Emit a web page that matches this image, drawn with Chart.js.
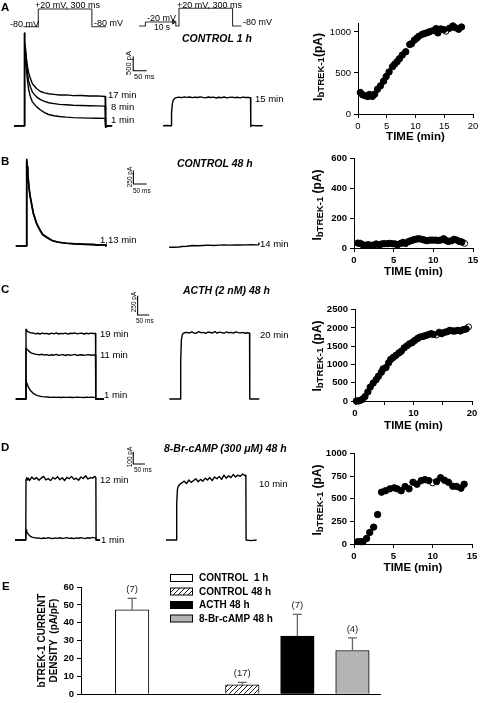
<!DOCTYPE html>
<html><head><meta charset="utf-8">
<script src="https://cdn.jsdelivr.net/npm/chart.js"></script>
<style>
html,body{margin:0;padding:0;background:#fff;}
#root{position:relative;width:480px;height:703px;overflow:hidden;font-family:"Liberation Sans",Arial,Helvetica,sans-serif;color:#000;background:#fff;}
canvas{position:absolute;}
.t{position:absolute;white-space:nowrap;line-height:1;}
sub{font-size:0.8em;vertical-align:-0.25em;line-height:0;}
</style></head><body><div id="root"></div>
<script>
// ---------------- DATA ----------------
// Voltage protocols (ms, mV)
const protoL_t = [-84, 0, 0, 300, 300, 380];
const protoL_v = [-80, -80, 20, 20, -80, -80];
const protoR_t = [-224, -188, -188, -18, -18, 0, 0, 300, 300, 350];
const protoR_v = [-80, -80, -57, -57, -80, -80, 20, 20, -80, -80];

// Panel A current traces (ms, pA)
const tA = [-38,-20,-1,0,2,4,8,12,16,22,30,45,60,75,90,110,130,155,180,210,240,270,299,300,302,312,325];
const A17 = [0,0,0,3300,3000,2800,2400,2100,1900,1700,1500,1330,1220,1170,1140,1120,1095,1100,1075,1080,1060,1065,1045,-60,-40,0,0];
const A8  = [0,0,0,3300,2900,2700,2200,1850,1600,1400,1200,1030,930,870,820,790,760,748,730,722,712,706,700,-60,-40,0,0];
const A1  = [0,0,0,3300,2800,2600,2000,1600,1300,1050,850,680,560,470,400,355,330,305,290,280,270,265,260,-60,-40,0,0];
const tA15 = [-30,-15,-1,0,2,5,8,12,16,20,30,40,50,60,70,80,90,100,110,120,130,140,150,160,170,180,190,200,210,220,230,240,250,260,270,280,290,299,300,303,320,345];
const A15 = [0,5,0,0,450,780,900,960,990,1000,1020,1000,1030,1010,1025,1000,1020,1005,1030,1010,995,1025,1005,1020,990,1015,1000,1025,995,1010,1020,1000,1015,995,1020,1005,1010,1000,-30,10,0,0];

// Panel B
const tB = [-41,-20,-1,0,2,4,8,12,18,25,37,50,60,80,97,120,149,180,220,255,260,280,296,297];
const B1  = [0,0,0,1630,1500,1380,1150,970,808,620,432,300,220,150,100,72,52,42,32,26,14,18,20,0];
const B13 = [0,0,0,1600,1470,1350,1120,950,790,605,420,292,212,146,97,70,52,40,30,25,24,21,22,0];
const tB14 = [-37,-20,0,10,30,50,70,90,110,130,150,170,190,210,230,250,270,290,299,300];
const B14 = [0,0,5,15,20,35,30,35,40,35,40,45,40,45,42,45,48,45,48,90];

// Panel C
const tC = [-44,-20,-1,0,3,6,10,15,20,30,40,50,60,70,80,90,100,110,120,130,140,150,160,170,180,190,200,210,220,230,240,250,260,270,280,290,299,300,315,335];
const C19 = [0,0,0,920,910,895,885,880,875,872,860,868,858,870,862,866,855,869,860,872,858,866,862,870,856,868,864,872,860,866,870,858,868,862,870,864,866,0,0,0];
const C11 = [0,0,0,669,660,650,640,625,612,600,592,588,585,590,580,586,575,584,578,590,576,582,585,574,586,578,582,588,575,580,584,576,582,586,578,580,582,0,0,0];
const C1  = [0,0,0,242,215,190,160,130,108,78,58,45,37,32,28,26,24,22,25,21,23,20,24,22,21,23,20,22,24,21,22,20,23,22,24,21,22,0,0,0];
const tC20 = [-46,-20,-1,0,3,6,10,15,20,30,40,50,60,70,80,90,100,110,120,130,140,150,160,170,180,190,200,210,220,230,240,250,260,270,280,290,299,300,320,341];
const C20 = [0,0,0,0,500,780,850,870,875,880,870,885,872,868,890,875,880,866,884,878,872,888,870,882,876,868,885,874,880,870,886,876,872,880,868,875,870,0,0,0];

// Panel D
const tD = [-47,-20,-1,0,3,6,10,15,20,25,35,45,55,65,75,85,95,105,115,125,135,145,155,165,175,185,195,205,215,225,235,245,255,265,275,285,295,299,300,317];
const D12 = [0,0,0,505,520,500,515,495,510,525,505,520,498,515,530,500,512,495,520,508,528,502,518,496,522,510,530,505,515,498,525,512,535,508,520,515,530,520,0,0];
const D1  = [0,0,0,83,70,60,48,38,30,24,20,16,18,12,17,14,20,15,12,18,14,19,13,16,20,14,17,12,18,15,20,16,13,19,15,22,18,17,0,0];
const tD10 = [-43,-20,-1,0,3,6,10,15,20,25,35,45,55,65,75,85,95,105,115,125,135,145,155,165,175,185,195,205,215,225,235,245,255,265,275,285,295,299,300,320,345];
const D10 = [0,0,0,0,300,420,450,460,470,475,490,470,500,480,495,510,485,505,490,515,500,520,495,525,510,530,505,540,515,535,520,545,525,540,530,550,535,540,0,-5,0];

// Scale bars
const barA = {ms: 50, pA: 500}, barB = {ms: 50, pA: 250}, barC = {ms: 50, pA: 250}, barD = {ms: 50, pA: 100};

// Time courses (min, pA)
const scA_t = [0.4,0.8,1.27,1.7,2.0,2.5,2.9,3.4,3.9,4.45,4.9,5.4,6.0,6.4,6.8,7.2,7.7,8.3,9.0,9.3,9.8,10.2,10.6,11.2,11.6,12.1,12.5,13.1,13.6,13.9,14.4,14.9,15.9,16.5,16.9,17.5,18.0];
const scA_i = [262,234,222,214,238,214,242,302,343,400,456,512,577,609,637,673,718,758,847,855,899,923,948,972,980,992,1004,1016,1040,988,1036,1028,1044,1073,1052,1032,1060];
const scA_open_t = [15.3], scA_open_i = [1008];
const scB_t = [0.5,0.8,1.1,1.5,1.8,2.15,2.5,2.8,3.2,3.5,3.8,4.2,4.5,4.85,5.2,5.5,5.9,6.2,6.5,6.9,7.2,7.55,7.9,8.2,8.6,8.9,9.2,9.6,9.9,10.25,10.6,10.9,11.3,11.6,11.9,12.3,12.6,12.95,13.3,13.6];
const scB_i = [33,31,22,18,22,18,20,27,22,27,29,29,31,29,27,22,31,38,31,44,49,56,60,62,58,53,49,53,53,53,51,53,62,51,44,49,58,53,44,40];
const scB_open_t = [13.95], scB_open_i = [31];
const scC_t = [0.23,0.57,0.9,1.26,1.7,2.2,2.6,3.1,3.6,4.0,4.5,4.8,5.3,5.75,6.1,6.55,7.0,7.5,7.9,8.4,8.85,9.3,9.8,10.2,10.7,11.1,11.6,12.0,12.5,13.0,13.4,14.4,14.8,15.3,15.75,16.2,16.7,17.1,17.6,18.0,18.5,19.0];
const scC_i = [0,0,18,46,120,250,380,490,583,676,787,880,917,1046,1139,1194,1250,1315,1361,1454,1509,1565,1602,1657,1713,1750,1769,1787,1815,1843,1824,1880,1843,1880,1898,1935,1917,1917,1935,1917,1954,1972];
const scC_open_t = [13.9, 19.4], scC_open_i = [1806, 2028];
const scD_t = [0.5,0.85,1.15,1.6,2.0,2.5,3.0,3.5,4.0,4.55,5.1,5.5,6.0,6.5,7.0,7.5,8.0,8.55,9.0,9.5,10.5,11.0,11.5,12.0,12.55,13.05,13.6,14.0];
const scD_i = [26,26,26,62,128,187,326,574,589,611,622,611,589,637,611,684,662,702,713,702,691,735,706,684,640,637,618,662];
const scD_open_t = [10.0], scD_open_i = [677];

// Tick values of the time-course panels
const ticksA_x = [0,5,10,15,20],  ticksA_y = [0,500,1000];
const ticksB_x = [0,5,10,15],     ticksB_y = [0,200,400,600];
const ticksC_x = [0,5,10,15,20],  ticksC_y = [0,500,1000,1500,2000,2500];
const labelsC_x = [0,10,20];
const ticksD_x = [0,5,10,15],     ticksD_y = [0,250,500,750,1000];

// Panel E bar chart
const eLabels = ['CONTROL  1 h', 'CONTROL 48 h', 'ACTH 48 h', '8-Br-cAMP 48 h'];
const eSlot = [1, 3, 4, 5];
const eMean = [47.2, 5.3, 32.6, 24.5];
const eSEM  = [6.4, 1.4, 12.1, 7.0];
const eN    = [7, 17, 7, 4];
const eTicks = [0,10,20,30,40,50,60];

// ---------------- RENDER ----------------
const FONT = '"Liberation Sans", Arial, Helvetica, sans-serif';
Chart.defaults.font.family = FONT;
Chart.defaults.color = '#000';
Chart.defaults.animation = false;
Chart.defaults.events = [];
Chart.defaults.plugins.legend.display = false;
Chart.defaults.plugins.tooltip.enabled = false;

const root = document.getElementById('root');
function mkCanvas(r){
  const c = document.createElement('canvas');
  c.width = r.w; c.height = r.h;
  c.style.left = r.l + 'px'; c.style.top = r.t + 'px';
  c.style.width = r.w + 'px'; c.style.height = r.h + 'px';
  root.appendChild(c); return c;
}
function pairs(t, v){ return t.map((x, i) => ({x: x, y: v[i]})); }
function txt(s, x, y, css, center){
  const d = document.createElement('div'); d.className = 't'; d.innerHTML = s;
  d.style.left = x + 'px'; d.style.top = y + 'px';
  d.style.transform = center ? 'translate(-50%,-50%)' : 'translate(0,-50%)';
  Object.assign(d.style, css || {}); root.appendChild(d);
}
function rtxt(s, x, y, css){
  const d = document.createElement('div'); d.className = 't'; d.innerHTML = s;
  d.style.left = x + 'px'; d.style.top = y + 'px';
  d.style.transform = 'translate(-50%,-50%) rotate(-90deg)';
  Object.assign(d.style, css || {}); root.appendChild(d);
}

function traceChart(rect, map, lines, extra){
  const xmin = -(map.px0 - rect.l) * map.xPer;
  const xmax = xmin + rect.w * map.xPer;
  const ymax = map.yRef + (map.py - rect.t) * map.yPer;
  const ymin = ymax - rect.h * map.yPer;
  const ds = lines.map(L => ({data: pairs(L.t, L.v), showLine: true, borderColor: L.c || '#000',
    borderWidth: L.w || 1.4, pointRadius: 0, tension: 0, fill: false, clip: false, borderJoinStyle: 'round'}));
  if (extra) extra.forEach(e => ds.push(e));
  new Chart(mkCanvas(rect), {type: 'scatter', data: {datasets: ds},
    options: {responsive: false, layout: {padding: 0, autoPadding: false},
      scales: {x: {type: 'linear', display: false, min: xmin, max: xmax},
               y: {type: 'linear', display: false, min: ymin, max: ymax}}}});
}
function scaleBarLine(t0, i0, b){
  return {t: [t0, t0, t0 + b.ms], v: [i0 + b.pA, i0, i0], w: 1.1};
}

// Protocols
traceChart({l:0,t:0,w:135,h:32}, {px0:38.3,xPer:5.6,py:26.7,yRef:-80,yPer:5.65},
  [{t: protoL_t, v: protoL_v, c: '#333', w: 1.1}]);
traceChart({l:135,t:0,w:145,h:32}, {px0:179,xPer:5.6,py:26,yRef:-80,yPer:5.65},
  [{t: protoR_t, v: protoR_v, c: '#333', w: 1.1}],
  [{data: [{x: -30, y: -57}], pointStyle: 'triangle', rotation: 90, pointRadius: 2.5,
    pointBackgroundColor: '#333', pointBorderColor: '#333', showLine: false, clip: false}]);

// Panel traces
traceChart({l:8,t:26,w:152,h:108}, {px0:24.3,xPer:3.7,py:125.7,yRef:0,yPer:35.7},
  [{t:tA,v:A1},{t:tA,v:A8},{t:tA,v:A17}, scaleBarLine(403, 1964, barA)]);
traceChart({l:160,t:26,w:120,h:108}, {px0:171,xPer:3.76,py:125.7,yRef:0,yPer:35.7},
  [{t:tA15,v:A15}]);
traceChart({l:8,t:148,w:152,h:104}, {px0:26.7,xPer:3.75,py:246,yRef:0,yPer:18.8},
  [{t:tB,v:B1,w:1.6},{t:tB,v:B13,w:1.6}, scaleBarLine(400, 1166, barB)]);
traceChart({l:160,t:148,w:120,h:104}, {px0:179,xPer:3.75,py:247.3,yRef:0,yPer:18.8},
  [{t:tB14,v:B14}]);
traceChart({l:8,t:286,w:152,h:118}, {px0:26,xPer:4.3,py:399,yRef:0,yPer:13.2},
  [{t:tC,v:C1},{t:tC,v:C11},{t:tC,v:C19}, scaleBarLine(480, 1109, barC)]);
traceChart({l:160,t:286,w:120,h:118}, {px0:180,xPer:4.3,py:399,yRef:0,yPer:13.2},
  [{t:tC20,v:C20}]);
traceChart({l:8,t:443,w:152,h:102}, {px0:26,xPer:4.28,py:540,yRef:0,yPer:8.33},
  [{t:tD,v:D1},{t:tD,v:D12}, scaleBarLine(459, 633, barD)]);
traceChart({l:160,t:443,w:120,h:102}, {px0:176,xPer:4.28,py:540,yRef:0,yPer:8.33},
  [{t:tD10,v:D10}]);

// Scatter panels
function scatterPanel(p){
  const padL = 55, padT = 8, padR = 10, xH = p.xTitle + 7;
  const rect = {l: p.l - padL, t: p.t - padT, w: (p.r - p.l) + padL + padR, h: (p.b - p.t) + padT + xH};
  const tickFont = {family: FONT, size: 9.5, weight: p.bold ? 'bold' : 'normal'};
  const xLab = p.xLabels || p.xTicks;
  new Chart(mkCanvas(rect), {type: 'scatter', data: {datasets: [
    {data: pairs(p.t1, p.v1), pointRadius: 3.2, pointBackgroundColor: '#000', pointBorderColor: '#000', pointBorderWidth: 1, showLine: false, clip: false},
    {data: pairs(p.t2, p.v2), pointRadius: 3.0, pointBackgroundColor: '#fff', pointBorderColor: '#000', pointBorderWidth: 1, showLine: false, clip: false}
  ]}, options: {responsive: false, layout: {padding: {left: 0, top: padT, right: padR, bottom: 0}, autoPadding: false},
    scales: {
      x: {type: 'linear', min: 0, max: p.xMax, afterFit: s => { s.height = xH; },
        afterBuildTicks: s => { s.ticks = p.xTicks.map(v => ({value: v})); },
        ticks: {autoSkip: false, maxRotation: 0, padding: 3, font: tickFont, color: '#000',
          callback: v => (xLab.indexOf(v) >= 0 ? String(v) : '')},
        grid: {drawOnChartArea: false, drawTicks: true, tickLength: 4, color: '#000'},
        border: {display: true, color: '#000', width: 1},
        title: {display: true, text: 'TIME (min)', font: {family: FONT, size: 11.5, weight: 'bold'}, color: '#000', padding: 0}},
      y: {type: 'linear', min: 0, max: p.yMax, afterFit: s => { s.width = padL; },
        afterBuildTicks: s => { s.ticks = p.yTicks.map(v => ({value: v})); },
        ticks: {autoSkip: false, padding: 3, font: tickFont, color: '#000', callback: v => String(v)},
        grid: {drawOnChartArea: false, drawTicks: true, tickLength: 4, color: '#000'},
        border: {display: true, color: '#000', width: 1}}
    }}});
}
scatterPanel({l:358,r:473,t:23,b:114,xMax:20,yMax:1100,xTicks:ticksA_x,yTicks:ticksA_y,bold:false,xTitle:23,
  t1:scA_t,v1:scA_i,t2:scA_open_t,v2:scA_open_i});
scatterPanel({l:354,r:473,t:158,b:248,xMax:15,yMax:600,xTicks:ticksB_x,yTicks:ticksB_y,bold:true,xTitle:24,
  t1:scB_t,v1:scB_i,t2:scB_open_t,v2:scB_open_i});
scatterPanel({l:355,r:472,t:309,b:401,xMax:20,yMax:2500,xTicks:ticksC_x,xLabels:labelsC_x,yTicks:ticksC_y,bold:true,xTitle:25,
  t1:scC_t,v1:scC_i,t2:scC_open_t,v2:scC_open_i});
scatterPanel({l:354,r:472,t:453,b:544,xMax:15,yMax:1000,xTicks:ticksD_x,yTicks:ticksD_y,bold:true,xTitle:24,
  t1:scD_t,v1:scD_i,t2:scD_open_t,v2:scD_open_i});

// Panel E bar chart
function hatchPattern(){
  const c = document.createElement('canvas'); c.width = 5; c.height = 5;
  const x = c.getContext('2d');
  x.fillStyle = '#fff'; x.fillRect(0, 0, 5, 5);
  x.strokeStyle = '#000'; x.lineWidth = 0.9;
  x.beginPath(); x.moveTo(-1, 6); x.lineTo(6, -1); x.moveTo(-1, 1); x.lineTo(1, -1); x.moveTo(4, 6); x.lineTo(6, 4); x.stroke();
  return x.createPattern(c, 'repeat');
}
const hatch = hatchPattern();
const eFill = ['#ffffff', hatch, '#000000', '#b4b4b4'];
const eErrPlugin = {id: 'eErr', afterDatasetsDraw(ch){
  const {ctx, scales: {x, y}} = ch;
  ctx.save();
  eSlot.forEach((s, i) => {
    const px = x.getPixelForValue(s);
    const y0 = y.getPixelForValue(eMean[i]);
    const y1 = y.getPixelForValue(eMean[i] + eSEM[i]);
    ctx.strokeStyle = '#666'; ctx.lineWidth = 1.3;
    ctx.beginPath(); ctx.moveTo(px, y0); ctx.lineTo(px, y1); ctx.moveTo(px - 4.5, y1); ctx.lineTo(px + 4.5, y1); ctx.stroke();
    ctx.fillStyle = '#222'; ctx.font = '9.5px ' + FONT; ctx.textAlign = 'center'; ctx.textBaseline = 'bottom';
    ctx.fillText('(' + eN[i] + ')', px, y1 - 4);
  });
  ctx.restore();
}};
const eLegendPlugin = {id: 'eLeg', afterDraw(ch){
  const ctx = ch.ctx; ctx.save();
  eLabels.forEach((lab, i) => {
    const yc = 10 + i * 13.5;
    ctx.fillStyle = eFill[i]; ctx.fillRect(170, yc - 3.5, 23, 7);
    ctx.strokeStyle = '#000'; ctx.lineWidth = 1; ctx.strokeRect(170.5, yc - 3.5, 22, 7);
    ctx.fillStyle = '#000'; ctx.font = 'bold 10px ' + FONT; ctx.textAlign = 'left'; ctx.textBaseline = 'middle';
    ctx.fillText(lab, 199, yc + 0.5);
  });
  ctx.restore();
}};
new Chart(mkCanvas({l:0,t:568,w:400,h:135}), {type: 'bar',
  data: {datasets: [{data: pairs(eSlot, eMean), backgroundColor: eFill, borderColor: '#000', borderWidth: 1, barThickness: 33.5, borderSkipped: 'bottom'}]},
  options: {responsive: false, layout: {padding: {left: 0, top: 19, right: 20, bottom: 4}, autoPadding: false},
    scales: {
      x: {type: 'linear', offset: false, min: 0.072, max: 5.5, afterFit: s => { s.height = 0; },
        ticks: {display: false}, grid: {display: false}, border: {display: true, color: '#000', width: 1}},
      y: {type: 'linear', min: 0, max: 60, afterFit: s => { s.width = 81; },
        afterBuildTicks: s => { s.ticks = eTicks.map(v => ({value: v})); },
        ticks: {padding: 3, font: {family: FONT, size: 9.5, weight: 'bold'}, color: '#000'},
        grid: {drawOnChartArea: false, drawTicks: true, tickLength: 4, color: '#000'},
        border: {display: true, color: '#000', width: 1},
        title: {display: true, text: ['bTREK-1 CURRENT', 'DENSITY  (pA/pF)'], font: {family: FONT, size: 10, weight: 'bold'}, color: '#000', padding: {top: 36, bottom: 0}}}
    }},
  plugins: [eErrPlugin, eLegendPlugin]});

// ---------------- TEXT ----------------
const bold11 = {fontSize: '11.5px', fontWeight: 'bold'};
txt('A', 1, 8, bold11); txt('B', 1, 162, bold11); txt('C', 1, 290, bold11); txt('D', 1, 448, bold11); txt('E', 2, 587, bold11);
const p9 = {fontSize: '9px'};
txt('+20 mV, 300 ms', 35, 4.5, p9); txt('-80 mV', 10, 24, p9); txt('-80 mV', 94, 23, p9);
txt('+20 mV, 300 ms', 177, 4.5, p9); txt('-20 mV', 147, 17.5, p9); txt('10 s', 154, 27, {fontSize: '8.5px'}); txt('-80 mV', 243, 22, p9);
const bi = {fontSize: '10.5px', fontWeight: 'bold', fontStyle: 'italic'};
txt('CONTROL 1 h', 182, 37.5, bi); txt('CONTROL 48 h', 177, 163, bi); txt('ACTH (2 nM) 48 h', 183, 290, bi); txt('8-Br-cAMP (300 &mu;M) 48 h', 164, 448, bi);
const m10 = {fontSize: '9.5px'};
txt('17 min', 108, 94.5, m10); txt('8 min', 111, 107, m10); txt('1 min', 111, 120, m10); txt('15 min', 255, 98.5, m10);
txt('1,13 min', 100, 240, m10); txt('14 min', 260, 244, m10);
txt('19 min', 100, 333.5, m10); txt('11 min', 100, 355, m10); txt('1 min', 104, 394.5, m10); txt('20 min', 260, 334.5, m10);
txt('12 min', 100, 479.5, m10); txt('1 min', 101, 540, m10); txt('10 min', 259, 483.5, m10);
// scale bar labels
rtxt('500 pA', 129, 63, {fontSize: '7.5px'}); txt('50 ms', 134, 77, {fontSize: '7.5px'});
rtxt('250 pA', 130, 177, {fontSize: '6.5px'}); txt('50 ms', 133, 191, {fontSize: '6.5px'});
rtxt('250 pA', 134, 302, {fontSize: '6.5px'}); txt('50 ms', 136, 321, {fontSize: '6.5px'});
rtxt('100 pA', 130, 457, {fontSize: '6.5px'}); txt('50 ms', 134, 470, {fontSize: '6.5px'});
// scatter y titles
const yt = {fontSize: '12px', fontWeight: 'bold'};
rtxt('I<sub>bTREK-1</sub>(pA)', 318, 67, yt);
rtxt('I<sub>bTREK-1</sub> (pA)', 317, 205, yt);
rtxt('I<sub>bTREK-1</sub> (pA)', 317, 356, yt);
rtxt('I<sub>bTREK-1</sub> (pA)', 317, 500, yt);
</script></body></html>
